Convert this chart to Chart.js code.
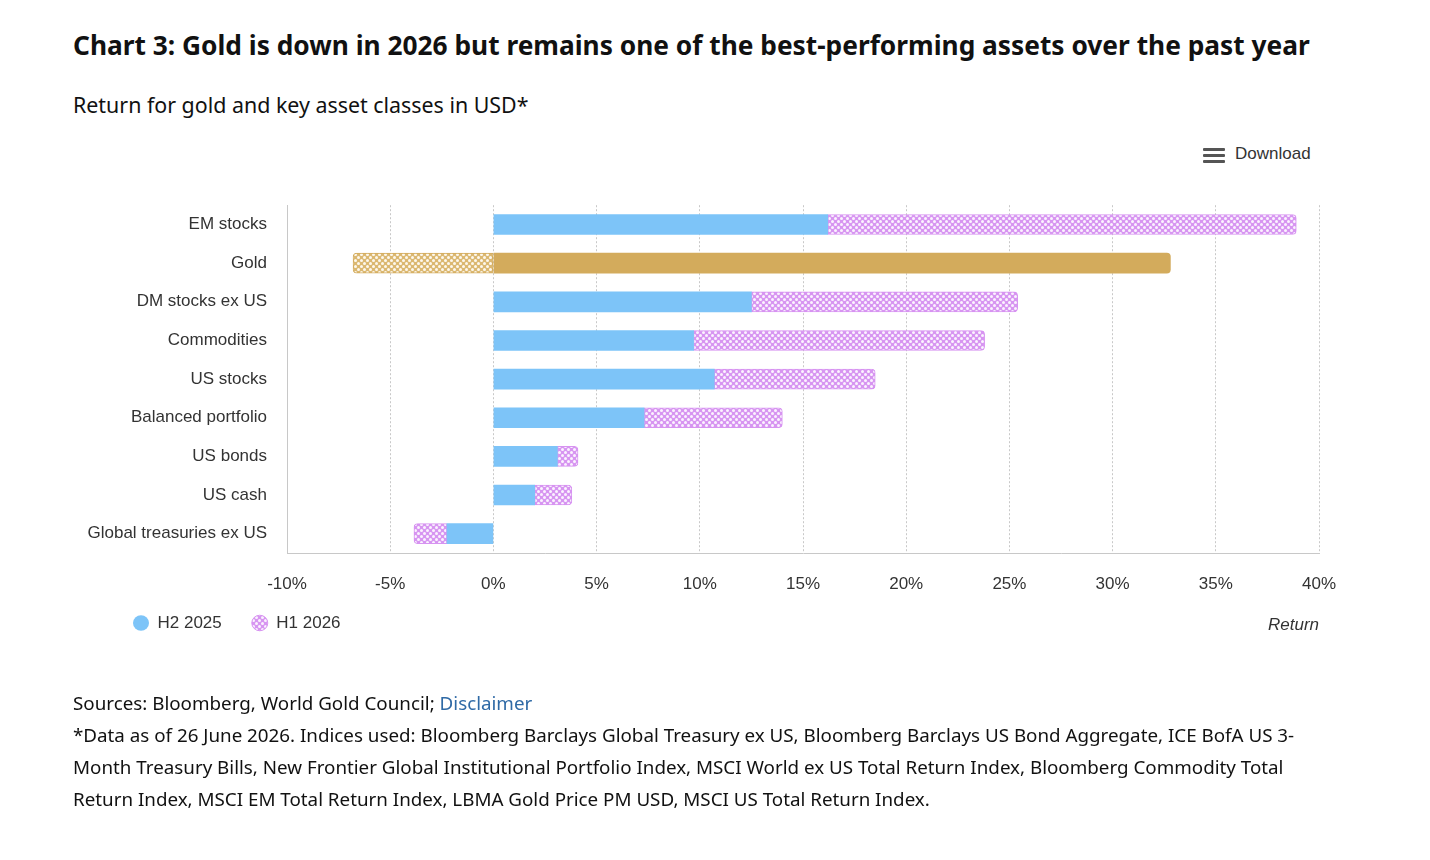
<!DOCTYPE html>
<html>
<head>
<meta charset="utf-8">
<script src="https://cdn.jsdelivr.net/npm/chart.js@4/dist/chart.umd.min.js"></script>
<style>
  html, body { margin: 0; padding: 0; background: #fff; }
  body { width: 1430px; height: 860px; position: relative; overflow: hidden; font-family: "Noto Sans", sans-serif; color: #111; }
  #title { position: absolute; left: 73px; top: 29px; font-size: 26.3px; font-weight: bold; line-height: 32px; white-space: nowrap; color: #111; }
  #subtitle { position: absolute; left: 73px; top: 91px; font-size: 21.4px; line-height: 28px; color: #111; }
  #download { position: absolute; left: 1203px; top: 143px; height: 22px; font-family: "Liberation Sans", Arial, sans-serif; font-size: 17px; color: #333; line-height: 22px; }
  #download .icon { position: absolute; left: 0; top: 5px; width: 22px; }
  #download .icon span { display: block; height: 3px; background: #555; margin-bottom: 3px; border-radius: 1px; }
  #download .txt { position: absolute; left: 32px; top: 0; white-space: nowrap; }
  #chartwrap { position: absolute; left: 0; top: 175px; width: 1430px; height: 521px; }
  #notes { position: absolute; left: 73px; top: 687px; width: 1245px; font-size: 18.8px; line-height: 32px; color: #111; z-index: 2; }
  #notes a { color: #2f6aa6; text-decoration: none; }
</style>
</head>
<body>
<div id="title">Chart 3: Gold is down in 2026 but remains one of the best-performing assets over the past year</div>
<div id="subtitle">Return for gold and key asset classes in USD*</div>
<div id="download"><div class="icon"><span></span><span></span><span></span></div><div class="txt">Download</div></div>
<div id="chartwrap"><canvas id="c"></canvas></div>
<div id="notes">Sources: Bloomberg, World Gold Council; <a>Disclaimer</a><br>*Data as of 26 June 2026. Indices used: Bloomberg Barclays Global Treasury ex US, Bloomberg Barclays US Bond Aggregate, ICE BofA US 3-Month Treasury Bills, New Frontier Global Institutional Portfolio Index, MSCI World ex US Total Return Index, Bloomberg Commodity Total Return Index, MSCI EM Total Return Index, LBMA Gold Price PM USD, MSCI US Total Return Index.</div>
<script>
const categories = ['EM stocks', 'Gold', 'DM stocks ex US', 'Commodities', 'US stocks', 'Balanced portfolio', 'US bonds', 'US cash', 'Global treasuries ex US'];
const seriesNames = ['H2 2025', 'H1 2026'];
const h2_2025 = [16.2, 32.8, 12.5, 9.7, 10.7, 7.3, 3.1, 2.0, -2.25];
const h1_2026 = [22.7, -6.8, 12.9, 14.1, 7.8, 6.7, 1.0, 1.8, -1.6];
const xTicks = [-10, -5, 0, 5, 10, 15, 20, 25, 30, 35, 40];
const highlight = 'Gold';

function makePattern(base, dot) {
  const t = document.createElement('canvas');
  t.width = 6; t.height = 6;
  const g = t.getContext('2d');
  g.fillStyle = base; g.fillRect(0, 0, 6, 6);
  g.fillStyle = dot;
  g.beginPath(); g.arc(1.5, 1.5, 1.5, 0, Math.PI * 2); g.fill();
  g.beginPath(); g.arc(4.5, 4.5, 1.5, 0, Math.PI * 2); g.fill();
  return g.createPattern(t, 'repeat');
}

const BLUE = '#7dc4f8';
const GOLD = '#d3ab5c';
const VIOLET = '#d793f1';
const violetPat = makePattern('#d795f1', '#fbf3fe');
const goldPat = makePattern('#dbb871', '#fdf8ee');

const h2Colors = categories.map(c => c === highlight ? GOLD : BLUE);
const h1Colors = categories.map(c => c === highlight ? goldPat : violetPat);
const h1Borders = categories.map(c => c === highlight ? GOLD : VIOLET);

const moveLegend = {
  id: 'moveLegend',
  afterLayout(chart) {
    const lg = chart.legend;
    const ca = chart.chartArea;
    lg.left = 103;
    lg.right = chart.width;
    lg.top = ca.bottom + 31.5;
    lg.bottom = lg.top + 80;
    lg.width = lg.right - lg.left;
    lg.height = 80;
  }
};

Chart.defaults.font.family = '"Liberation Sans", Arial, sans-serif';
Chart.defaults.font.size = 17;
Chart.defaults.color = '#333';

new Chart(document.getElementById('c'), {
  type: 'bar',
  data: {
    labels: categories,
    datasets: [
      {
        label: seriesNames[0],
        data: h2_2025,
        backgroundColor: h2Colors,
        borderWidth: 0,
        borderRadius: 4,
        borderSkipped: 'start',
        barThickness: 20
      },
      {
        label: seriesNames[1],
        data: h1_2026,
        backgroundColor: h1Colors,
        borderColor: h1Borders,
        borderWidth: 1,
        borderSkipped: false,
        borderRadius: (ctx) => {
          const v = ctx.raw;
          return v >= 0 ? { topLeft: 0, bottomLeft: 0, topRight: 4, bottomRight: 4 }
                        : { topLeft: 4, bottomLeft: 4, topRight: 0, bottomRight: 0 };
        },
        barThickness: 20
      }
    ]
  },
  options: {
    indexAxis: 'y',
    responsive: true,
    maintainAspectRatio: false,
    animation: false,
    layout: { padding: { top: 0, right: 111, bottom: 60, left: 0 } },
    scales: {
      x: {
        stacked: true,
        min: -10, max: 40,
        afterBuildTicks: (scale) => { scale.ticks = xTicks.map(v => ({ value: v })); },
        afterFit: (scale) => { scale.height = 82; },
        ticks: { padding: 21, color: '#333', callback: (v) => v + '%' },
        grid: { display: true, drawTicks: false, color: '#c8c8c8', lineWidth: 1 },
        border: { display: true, color: '#c8c8c8', dash: [2, 2] },
        title: { display: true, text: 'Return', align: 'end', font: { style: 'italic', size: 17 }, color: '#333', padding: { top: 0, bottom: 0 } }
      },
      y: {
        stacked: true,
        afterFit: (scale) => { scale.width = 287; },
        ticks: { padding: 20, color: '#333' },
        grid: { display: false, drawTicks: false },
        border: { display: true, color: '#c8c8c8' }
      }
    },
    plugins: {
      legend: {
        display: true,
        position: 'bottom',
        align: 'start',
        maxHeight: 1,
        labels: {
          usePointStyle: true,
          pointStyle: 'circle',
          pointStyleWidth: 16,
          boxHeight: 11,
          padding: 30,
          color: '#333',
          font: { size: 17 }
        }
      },
      tooltip: { enabled: false }
    }
  },
  plugins: [moveLegend]
});
</script>
</body>
</html>
